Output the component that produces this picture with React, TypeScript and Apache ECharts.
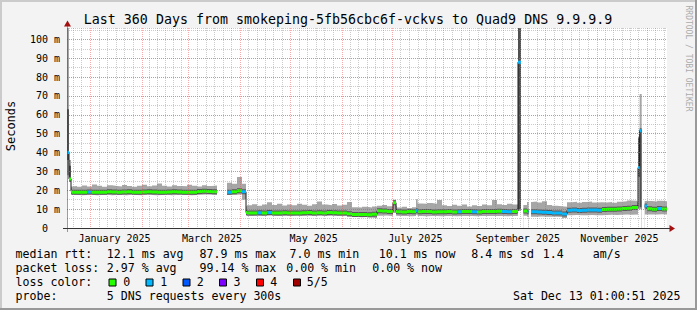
import React, { useEffect, useRef } from 'react';
import * as echarts from 'echarts';

const W = 697;
const H = 310;
const FONT = '"DejaVu Sans Mono", monospace';

// ---- data: 3-day buckets starting 2024-12-18 01:00:51 (day offsets) ----
const BUCKET_DAYS = 3;
const medianMs: (number | null)[] = [
  19.5,
  19.0, 18.9, 19.0, 19.1, 19.0, 18.9, 19.0, 19.2, 19.1, 19.0, 19.1, 19.2, 19.0, 19.0, 19.1,
  19.2, 19.1, 19.0, 19.0, 19.1, 19.2, 19.1, 19.0, 18.9, 19.0, 19.3, 19.5, 19.4, 19.2,
  null, null,
  19.0, 19.2, 19.8, 8.2,
  8.0, 7.9, 8.1, 8.0, 8.2, 8.0, 7.9, 8.1, 8.0, 8.0, 7.9, 8.1, 8.2, 8.0, 8.1, 8.0, 8.2, 8.1, 8.0, 7.9,
  7.5, 7.2, 7.1, 7.2, 7.0, 7.3,
  9.2, 9.0, 8.8, 8.7,
  8.6, 8.5, 8.7, 8.6,
  8.6, 8.8, 8.7, 8.5, 8.6,
  8.6, 8.7, 8.5, 8.6, 8.8, 8.7, 8.6, 8.5, 8.7, 8.8,
  8.8, 8.9, 8.7, 8.6, 8.8,
  9.0, 9.0, 8.6,
  8.6, 8.5, 8.4, 8.2, 8.0, 7.9, 7.4,
  9.4, 9.5, 9.3, 9.4, 9.6, 9.5, 9.4,
  9.8, 9.9, 10.0, 10.1, 10.4, 10.5, 10.8,
  10.8,
  11.6,
  10.2, 10.0, 10.3, 10.1,
];
const smokeLoMs: (number | null)[] = [
  17.5,
  17.6, 17.4, 17.5, 17.6, 17.3, 17.5, 17.6, 17.4, 17.5, 17.5, 17.3, 17.6, 17.5, 17.4, 17.6,
  17.5, 17.4, 17.5, 17.6, 17.4, 17.5, 17.6, 17.5, 17.3, 17.5, 17.6, 17.7, 17.6, 17.5,
  null, null,
  17.5, 17.6, 17.8, 6.5,
  6.4, 6.5, 6.3, 6.5, 6.6, 6.4, 6.3, 6.5, 6.4, 6.6, 6.3, 6.5, 6.4, 6.5, 6.6, 6.4, 6.5, 6.3, 6.4, 6.5,
  6.0, 5.8, 5.7, 5.8, 5.5, 5.2,
  6.5, 6.6, 6.4, 6.5,
  6.3, 6.4, 6.2, 6.3,
  6.3, 6.2, 6.4, 6.3, 6.2,
  6.3, 6.4, 6.2, 6.3, 6.3, 6.4, 6.2, 6.3, 6.4, 6.3,
  6.4, 6.3, 6.2, 6.3, 6.4,
  6.5, 6.5, 6.0,
  6.0, 6.1, 6.0, 6.0, 5.9, 5.8, 5.3,
  6.8, 6.9, 6.7, 6.8, 6.9, 6.8, 6.7,
  6.9, 7.0, 6.9, 7.0, 7.1, 7.0, 7.1,
  7.0,
  7.2,
  7.2, 7.1, 7.3, 7.2,
];
const smokeHiMs: (number | null)[] = [
  22.0,
  22.2, 21.8, 22.5, 22.0, 23.0, 22.4, 21.9, 22.6, 22.3, 22.0, 22.8, 22.2, 21.8, 22.4, 22.9,
  22.1, 22.5, 23.6, 22.4, 22.0, 22.7, 22.3, 22.1, 22.9, 22.4, 22.0, 22.6, 22.2, 22.5,
  null, null,
  24.0, 23.5, 27.0, 11.5,
  12.0, 12.6, 11.8, 12.4, 13.6, 12.2, 12.8, 11.9, 12.5, 12.1, 12.9, 12.3, 11.8, 12.6, 14.0, 12.4, 12.1, 12.7, 11.9, 12.3,
  13.8, 11.0, 10.8, 11.2, 10.9, 11.4,
  11.8, 12.2, 11.5, 11.8,
  10.8, 11.2, 10.6, 11.0,
  13.0, 12.8, 13.2, 12.9, 14.8,
  12.0, 11.6, 12.3, 11.8, 12.5, 11.4, 12.1, 11.7, 12.4, 12.0,
  14.8, 12.6, 12.2, 12.8, 12.4,
  12.5, 12.2, 13.8,
  14.0, 13.5, 14.2, 12.2, 11.8, 11.5, 11.2,
  13.6, 13.9, 13.4, 13.8, 14.0, 13.5, 13.7,
  13.5, 13.8, 13.4, 13.9, 14.2, 14.6, 14.5,
  14.0,
  14.3,
  14.3, 14.0, 14.4, 14.2,
];
const lossLevel: number[] = [
  0,
  0, 0, 0, 1, 0, 0, 0, 0, 0, 0, 0, 0, 0, 0, 0,
  0, 0, 0, 0, 0, 0, 0, 0, 0, 0, 0, 0, 0, 0,
  0, 0,
  1, 0, 0, 0,
  0, 0, 1, 0, 1, 0, 0, 0, 0, 0, 0, 0, 0, 0, 0, 0, 0, 0, 0, 0,
  0, 0, 0, 0, 0, 0,
  0, 0, 0, 0,
  0, 0, 0, 0,
  0, 0, 0, 0, 0,
  0, 0, 0, 1, 0, 0, 1, 0, 0, 0,
  0, 0, 1, 1, 0,
  0, 0, 1,
  1, 1, 1, 1, 1, 1, 1,
  1, 1, 1, 1, 1, 1, 1,
  0, 0, 0, 0, 0, 0, 0,
  0,
  1,
  0, 0, 1, 0,
];

// finer episodes (spikes, gaps) overriding the buckets, in day offsets
const epFrom = [0, 1.2, 105, 195.6, 209.4, 270.6, 272.4, 277, 342.6, 343.6, 344.8];
const epTo = [1.2, 2.4, 107.4, 197.4, 210.4, 272.4, 273.8, 278.4, 343.6, 344.8, 346.6];
const epMed: (number | null)[] = [40, 26, 19.2, 13.4, 9.2, 87.9, null, null, 32, 51.5, null];
const epLo: (number | null)[] = [28, 24.5, 15, 8, 7, 9, null, null, 10, 10, null];
const epHi: (number | null)[] = [110, 36, 23.5, 15, 15.2, 110, null, null, 48, 71, null];
const epInLo: (number | null)[] = [36, 26, null, null, null, 10, null, null, 27, 11, null];
const epInHi: (number | null)[] = [63, 33, null, null, null, 110, null, null, 48, 52, null];
const epLoss = [1, 0, 1, 0, 1, 1, 0, 0, 1, 1, 0];

const lossColors = ['#26ff00', '#00b8ff', '#0059ff', '#7e00ff', '#ff0000', '#a10000'];
const lossLabels = ['0', '1', '2', '3', '4', '5/5'];

const monthLabelNames = ['January 2025', 'March 2025', 'May 2025', 'July 2025', 'September 2025', 'November 2025'];
const monthLabelDays = [28.5, 87, 148, 209, 270.5, 331.5];

const TITLE = 'Last 360 Days from smokeping-5fb56cbc6f-vckvs to Quad9 DNS 9.9.9.9';
const legendRow1: [string, number][] = [
  ['median rtt:', 15.5], ['12.1 ms avg', 106.8], ['87.9 ms max', 199.5], ['7.0 ms min', 289.5],
  ['10.1 ms now', 378.8], ['8.4 ms sd', 471.2], ['1.4', 542.8], ['am/s', 592.8],
];
const legendRow2: [string, number][] = [
  ['packet loss:', 15.5], ['2.97 % avg', 106.8], ['99.14 % max', 199.5], ['0.00 % min', 286.2], ['0.00 % now', 372.2],
];
const legendRow4: [string, number][] = [['probe:', 15.5], ['5 DNS requests every 300s', 106.8]];
const STAMP = 'Sat Dec 13 01:00:51 2025';

type Seg = {
  d0: number; d1: number; med: number | null; lo: number | null; hi: number | null;
  inLo: number | null; inHi: number | null; loss: number;
};

function buildSegments(): Seg[] {
  let segs: Seg[] = medianMs.map((m, i) => ({
    d0: i * BUCKET_DAYS, d1: (i + 1) * BUCKET_DAYS, med: m, lo: smokeLoMs[i], hi: smokeHiMs[i],
    inLo: null, inHi: null, loss: lossLevel[i],
  }));
  for (let k = 0; k < epFrom.length; k++) {
    const from = epFrom[k];
    const to = epTo[k];
    const next: Seg[] = [];
    for (const s of segs) {
      if (s.d1 <= from || s.d0 >= to) { next.push(s); continue; }
      if (s.d0 < from) next.push({ ...s, d1: from });
      if (s.d1 > to) next.push({ ...s, d0: to });
    }
    next.push({ d0: from, d1: to, med: epMed[k], lo: epLo[k], hi: epHi[k], inLo: epInLo[k], inHi: epInHi[k], loss: epLoss[k] });
    next.sort((a, b) => a.d0 - b.d0);
    segs = next;
  }
  return segs;
}

function buildOption() {
  const segs = buildSegments();
  const stepLine = (get: (s: Seg) => number | null) => {
    const pts: (number | null)[][] = [];
    for (const s of segs) {
      const v = get(s);
      if (v == null) { pts.push([s.d0, null]); continue; }
      pts.push([s.d0, v], [s.d1, v]);
    }
    return pts;
  };
  const pieces = (keep: (s: Seg) => boolean) => {
    const pts: (number | null)[][] = [];
    for (const s of segs) {
      if (s.med == null || !keep(s)) continue;
      pts.push([s.d0, s.med], [s.d1, s.med], [s.d1, null]);
    }
    return pts;
  };
  const area = (data: any[], color: string) => ({
    type: 'line', data, symbol: 'none', silent: true, connectNulls: false,
    lineStyle: { width: 0, opacity: 0 }, areaStyle: { color, opacity: 1 }, z: 2,
  });
  const line = (data: any[], color: string, width: number) => ({
    type: 'line', data, symbol: 'none', silent: true, connectNulls: false,
    lineStyle: { width, color, cap: 'butt', join: 'miter' }, z: 2,
  });

  const START = Date.UTC(2024, 11, 18, 1, 0, 51);
  const DAY = 86400000;
  const monthStarts: number[] = [];
  for (let k = 0; k < 15; k++) monthStarts.push((Date.UTC(2024, 11 + k, 1) - START) / DAY);
  const majorX = monthStarts.filter((d) => d > 0 && d < 360);
  const minorX: number[] = [];
  for (let k = 0; k < monthStarts.length - 1; k++) {
    for (let j = 1; j < 6; j++) {
      const d = monthStarts[k] + (j * (monthStarts[k + 1] - monthStarts[k])) / 6;
      if (d > 0 && d < 360) minorX.push(d);
    }
  }

  const series: any[] = [
    area(stepLine((s) => s.hi), '#a6a6a6'),
    area(stepLine((s) => s.inHi), '#505050'),
    area(stepLine((s) => (s.inHi == null ? null : s.inLo)), '#a6a6a6'),
    area(stepLine((s) => s.lo), '#ffffff'),
    line(pieces(() => true), '#5a5a5a', 5),
    line(stepLine((s) => s.med), '#1a1a1a', 1),
  ];
  for (let L = 0; L < lossColors.length; L++) {
    if (!segs.some((s) => s.loss === L && s.med != null)) continue;
    series.push(line(pieces((s) => s.loss === L), lossColors[L], 3));
  }

  const majorGrid = { show: true, lineStyle: { color: 'rgba(235,70,70,0.45)', width: 1, type: [1, 1] } };
  const minorGrid = { show: true, lineStyle: { color: 'rgba(140,140,140,0.45)', width: 1, type: [1, 1] } };

  const text = (t: string, x: number, y: number, size: number, extra: any = {}) => ({
    type: 'text', x, y, z: 100, silent: true, ...extra,
    style: { text: t, font: `${size}px ${FONT}`, fill: extra.fill || '#000', align: extra.align || 'left', verticalAlign: 'middle' },
  });

  const rows = [254.3, 268.1, 281.9, 295.7];
  const graphics: any[] = [
    { type: 'rect', shape: { x: 0, y: 0, width: W, height: 2 }, style: { fill: '#cbcbcb' }, z: 100, silent: true },
    { type: 'rect', shape: { x: 0, y: 0, width: 2, height: H }, style: { fill: '#cbcbcb' }, z: 100, silent: true },
    { type: 'rect', shape: { x: 0, y: H - 2, width: W, height: 2 }, style: { fill: '#999999' }, z: 100, silent: true },
    { type: 'rect', shape: { x: W - 2, y: 0, width: 2, height: H }, style: { fill: '#999999' }, z: 100, silent: true },
    text(TITLE, 348, 19, 13.3, { align: 'center' }),
    text('Seconds', 10.5, 126, 12, { align: 'center', rotation: Math.PI / 2 }),
    text('RRDTOOL / TOBI OETIKER', 688, 58.5, 8, { align: 'center', rotation: -Math.PI / 2, fill: '#ababab' }),
    { type: 'line', shape: { x1: 63, y1: 228.5, x2: 671, y2: 228.5 }, style: { stroke: '#333', lineWidth: 1 }, z: 100, silent: true },
    { type: 'line', shape: { x1: 67.5, y1: 24, x2: 67.5, y2: 232 }, style: { stroke: 'rgba(60,60,60,0.5)', lineWidth: 1 }, z: 100, silent: true },
    { type: 'polygon', shape: { points: [[669.5, 225], [675, 228.5], [669.5, 232]] }, style: { fill: '#a31010' }, z: 101, silent: true },
    { type: 'polygon', shape: { points: [[64, 26.5], [67.5, 20.5], [71, 26.5]] }, style: { fill: '#a31010' }, z: 101, silent: true },
  ];
  legendRow1.forEach(([t, x]) => graphics.push(text(t, x, rows[0], 11.6)));
  legendRow2.forEach(([t, x]) => graphics.push(text(t, x, rows[1], 11.6)));
  graphics.push(text('loss color:', 15.5, rows[2], 11.6));
  const boxX = [109, 146, 183, 219.5, 256.5, 293.5];
  const labX = [123.2, 160.2, 196.8, 233.5, 270.2, 306.8];
  lossColors.forEach((c, i) => {
    graphics.push({ type: 'rect', shape: { x: boxX[i], y: 279, width: 7, height: 7 }, style: { fill: c, stroke: '#000', lineWidth: 1 }, z: 100, silent: true });
    graphics.push(text(lossLabels[i], labX[i], rows[2], 11.6));
  });
  legendRow4.forEach(([t, x]) => graphics.push(text(t, x, rows[3], 11.6)));
  graphics.push(text(STAMP, 680.5, rows[3], 11.6, { align: 'right' }));

  return {
    animation: false,
    backgroundColor: '#f3f3f3',
    grid: { left: 67, right: 30, top: 28, bottom: 82, show: true, backgroundColor: '#ffffff', borderWidth: 0 },
    xAxis: [
      {
        type: 'value', min: 0, max: 360, z: 11,
        axisLine: { show: false },
        axisTick: { show: false, customValues: majorX },
        axisLabel: {
          customValues: monthLabelDays, fontFamily: FONT, fontSize: 10, color: '#000', margin: 5,
          formatter: (v: number) => {
            let best = 0;
            monthLabelDays.forEach((d, i) => { if (Math.abs(d - v) < Math.abs(monthLabelDays[best] - v)) best = i; });
            return monthLabelNames[best];
          },
        },
        splitLine: majorGrid,
      },
      {
        type: 'value', min: 0, max: 360, z: 10, position: 'bottom',
        axisLine: { show: false },
        axisTick: { show: false, customValues: minorX },
        axisLabel: { show: false },
        splitLine: minorGrid,
      },
    ],
    yAxis: [
      {
        type: 'value', min: 0, max: 106, interval: 10, z: 11,
        axisLine: { show: false },
        axisTick: { show: false },
        axisLabel: {
          fontFamily: FONT, fontSize: 10, color: '#000', margin: 7, showMaxLabel: false,
          formatter: (v: number) => (v === 0 ? '0\u00a0\u00a0' : v > 100 ? '' : `${v} m`),
        },
        splitLine: { ...majorGrid, showMinLine: false, showMaxLine: false },
      },
      {
        type: 'value', min: 0, max: 106, interval: 5, z: 10, position: 'left',
        axisLine: { show: false },
        axisTick: { show: false },
        axisLabel: { show: false },
        splitLine: { ...minorGrid, showMinLine: false },
      },
    ],
    series: series.map((s) => ({ ...s, xAxisIndex: 0, yAxisIndex: 0 })),
    graphic: graphics,
  };
}

export default function App() {
  const ref = useRef<HTMLDivElement>(null);
  useEffect(() => {
    const chart = echarts.init(ref.current!, undefined, { renderer: 'svg', width: W, height: H });
    chart.setOption(buildOption() as any);
    return () => chart.dispose();
  }, []);
  return <div ref={ref} style={{ position: 'fixed', left: 0, top: 0, width: W, height: H }} />;
}
